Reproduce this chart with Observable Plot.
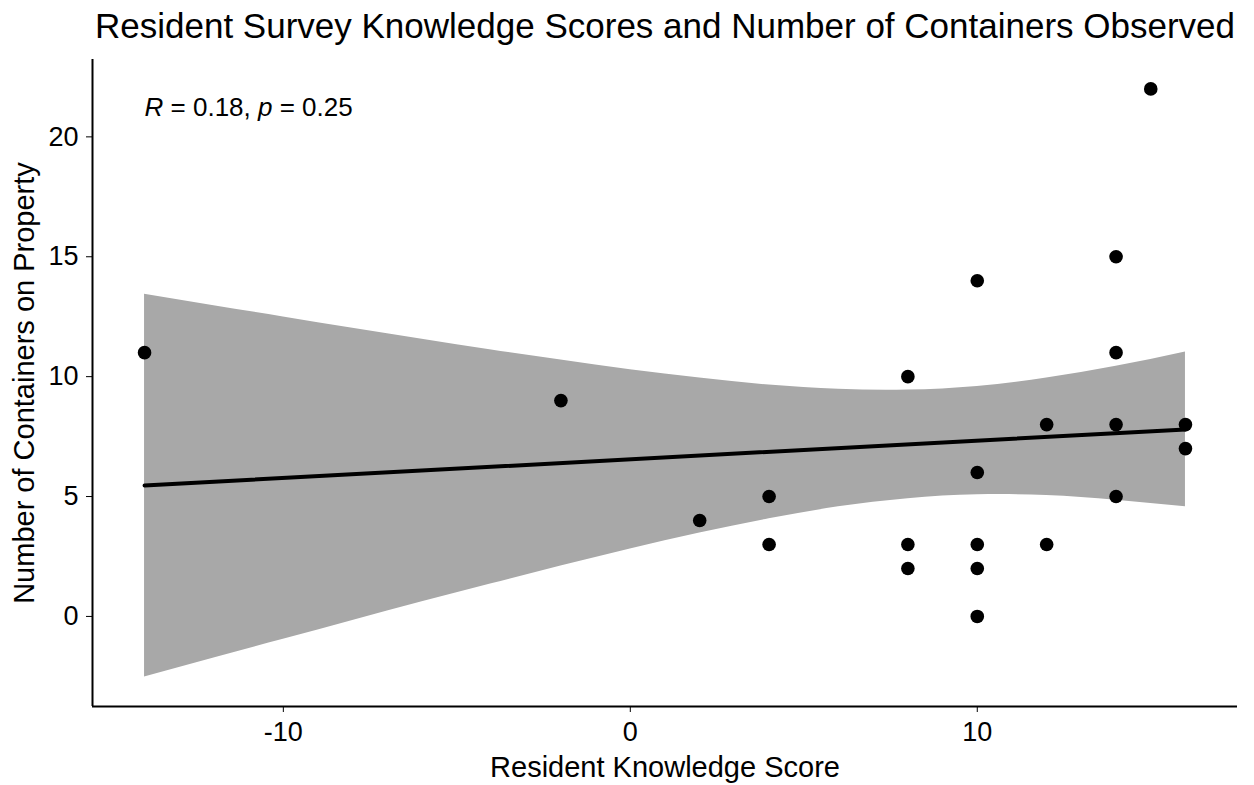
<!DOCTYPE html>
<html>
<head>
<meta charset="utf-8">
<script src="https://cdn.jsdelivr.net/npm/d3@7"></script>
<script src="https://cdn.jsdelivr.net/npm/@observablehq/plot@0.6"></script>
<style>
  html, body { margin: 0; padding: 0; background: #fff; }
  #chart { width: 1254px; height: 785px; }
</style>
</head>
<body>
<div id="chart"></div>
<script>
// ---- Data ----
const titleText = "Resident Survey Knowledge Scores and Number of Containers Observed";
const xLabel = "Resident Knowledge Score";
const yLabel = "Number of Containers on Property";

const knowledge  = [-14, -2, 2, 4, 4, 8, 8, 8, 10, 10, 10, 10, 10, 12, 12, 14, 14, 14, 14, 15, 16, 16];
const containers = [ 11,  9, 4, 5, 3, 10, 3, 2, 14, 6, 3, 2, 0, 8, 3, 15, 11, 8, 5, 22, 8, 7];

// fitted regression line (endpoints)
const fitX = [-14, 16];
const fitY = [5.46, 7.80];

// 95% confidence band read at these x positions
const bandX    = [-14, -12, -10, -8, -6, -4, -2, 0, 2, 4, 6, 8, 10, 12, 14, 16];
const bandLow  = [-2.53, -1.73, -0.95, -0.17, 0.61, 1.36, 2.10, 2.81, 3.48, 4.07, 4.57, 4.91, 5.07, 5.04, 4.85, 4.57];
const bandHigh = [13.44, 12.96, 12.49, 12.02, 11.56, 11.11, 10.69, 10.29, 9.94, 9.65, 9.47, 9.44, 9.59, 9.94, 10.43, 11.03];

const xTicks = [-10, 0, 10];
const yTicks = [0, 5, 10, 15, 20];

const rValue = 0.18, pValue = 0.25;
const corLabelPos = {x: -14, y: 21.2};

// ---- Build tables ----
const points = knowledge.map((k, i) => ({x: k, y: containers[i]}));
const fit = fitX.map((x, i) => ({x, y: fitY[i]}));
const band = bandX.map((x, i) => ({x, lo: bandLow[i], hi: bandHigh[i]}));

// ggplot-style 5% expansion of data range
function expand(ext) { const p = (ext[1] - ext[0]) * 0.05; return [ext[0] - p, ext[1] + p]; }
const xDomain = expand(d3.extent([...knowledge, ...bandX]));
const yDomain = expand(d3.extent([...containers, ...bandLow, ...bandHigh]));

const font = "'Liberation Sans', Arial, Helvetica, sans-serif";
const corText = `R = ${rValue}, p = ${pValue}`;

const chart = Plot.plot({
  width: 1254,
  height: 785,
  marginLeft: 92,
  marginRight: 17,
  marginTop: 59,
  marginBottom: 79,
  style: {fontFamily: font, fontSize: "27px", color: "black", background: "white", overflow: "visible"},
  x: {domain: xDomain, ticks: xTicks, tickSize: 6, tickPadding: 9, tickFormat: d => `${d}`, label: null},
  y: {domain: yDomain, ticks: yTicks, tickSize: 6, tickPadding: 8, tickFormat: d => `${d}`, label: null},
  marks: [
    Plot.areaY(band, {x: "x", y1: "lo", y2: "hi", fill: "#a8a8a8", curve: "natural"}),
    Plot.line(fit, {x: "x", y: "y", stroke: "black", strokeWidth: 4}),
    Plot.dot(points, {x: "x", y: "y", r: 6.8, fill: "black", stroke: "none"}),
    Plot.ruleY([yDomain[0]], {stroke: "black", strokeWidth: 2}),
    Plot.ruleX([xDomain[0]], {stroke: "black", strokeWidth: 2}),
    Plot.text([corText], {x: () => corLabelPos.x, y: () => corLabelPos.y, text: d => d,
      textAnchor: "start", lineAnchor: "middle", fontSize: 26, fill: "black"}),
    Plot.text([titleText], {frameAnchor: "top", dy: -33, text: d => d, lineAnchor: "middle", fontSize: 35, fill: "black"}),
    Plot.text([xLabel], {frameAnchor: "bottom", dy: 61, text: d => d, lineAnchor: "middle", fontSize: 29, fill: "black"}),
    Plot.text([yLabel], {frameAnchor: "left", dx: -68, rotate: -90, textAnchor: "middle", text: d => d, lineAnchor: "middle", fontSize: 29, fill: "black"})
  ]
});

// italic R and p in the correlation label
d3.select(chart).selectAll("text").filter(function() { return this.textContent === corText; }).each(function() {
  const t = d3.select(this);
  t.text(null);
  t.append("tspan").attr("font-style", "italic").style("font-style", "italic").text("R");
  t.append("tspan").text(` = ${rValue}, `);
  t.append("tspan").attr("font-style", "italic").style("font-style", "italic").text("p");
  t.append("tspan").text(` = ${pValue}`);
});

document.getElementById("chart").appendChild(chart);
</script>
</body>
</html>
